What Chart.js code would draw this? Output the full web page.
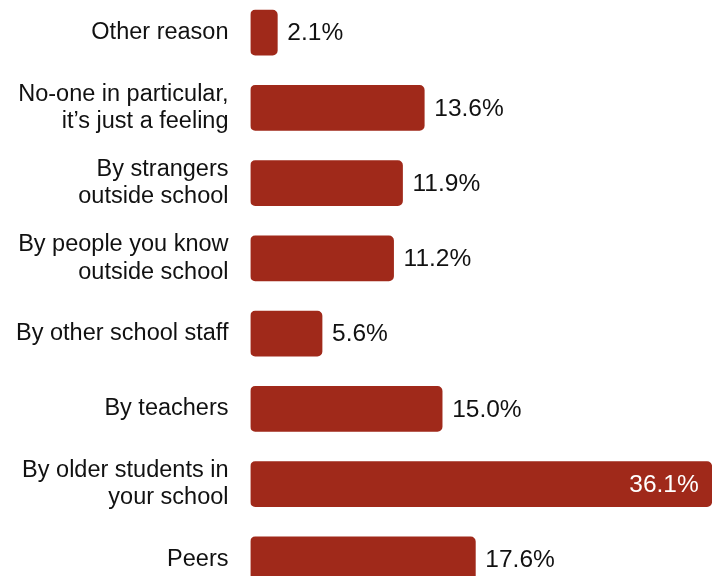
<!DOCTYPE html>
<html>
<head>
<meta charset="utf-8">
<script src="https://cdn.jsdelivr.net/npm/chart.js@4"></script>
<style>
  html, body { margin: 0; padding: 0; background: #fff; overflow: hidden; }
  #barChart { position: absolute; left: 0; top: -5px; }
</style>
</head>
<body>
<canvas id="barChart" width="712" height="602"></canvas>
<script>
// categories, top to bottom
const categories = [
  "Other reason",
  ["No-one in particular,", "it\u2019s just a feeling"],
  ["By strangers", "outside school"],
  ["By people you know", "outside school"],
  "By other school staff",
  "By teachers",
  ["By older students in", "your school"],
  "Peers"
];
const percentValues = [2.1, 13.6, 11.9, 11.2, 5.6, 15.0, 36.1, 17.6];

const barColour = "#a0291a";
const fontFamily = "'Liberation Sans', Arial, sans-serif";

// value labels next to (or inside) each bar
const valueLabels = {
  id: "valueLabels",
  afterDatasetsDraw(chart) {
    const ctx = chart.ctx;
    const meta = chart.getDatasetMeta(0);
    ctx.save();
    ctx.font = "24.5px " + fontFamily;
    ctx.textBaseline = "middle";
    meta.data.forEach((bar, i) => {
      const txt = percentValues[i].toFixed(1) + "%";
      if (percentValues[i] > 30) {
        ctx.fillStyle = "#ffffff";
        ctx.textAlign = "right";
        ctx.fillText(txt, bar.x - 13, bar.y + 1);
      } else {
        ctx.fillStyle = "#111111";
        ctx.textAlign = "left";
        ctx.fillText(txt, bar.x + 10, bar.y + 1);
      }
    });
    ctx.restore();
  }
};

new Chart(document.getElementById("barChart"), {
  type: "bar",
  data: {
    labels: categories,
    datasets: [{
      data: percentValues,
      backgroundColor: barColour,
      borderRadius: 5,
      borderSkipped: false,
      barThickness: 45
    }]
  },
  options: {
    indexAxis: "y",
    responsive: false,
    animation: false,
    layout: { padding: 0 },
    plugins: {
      legend: { display: false },
      tooltip: { enabled: false }
    },
    scales: {
      x: {
        display: false,
        min: 0,
        max: 36.12
      },
      y: {
        afterFit: (scale) => {
          scale.width = 250.5;
          scale.paddingTop = 0;
          scale.paddingBottom = 0;
        },
        grid: { display: false, drawTicks: false },
        border: { display: false },
        ticks: {
          autoSkip: false,
          padding: 22,
          color: "#111111",
          font: { family: fontFamily, size: 23.5, lineHeight: 1.17 }
        }
      }
    }
  },
  plugins: [valueLabels]
});
</script>
</body>
</html>
